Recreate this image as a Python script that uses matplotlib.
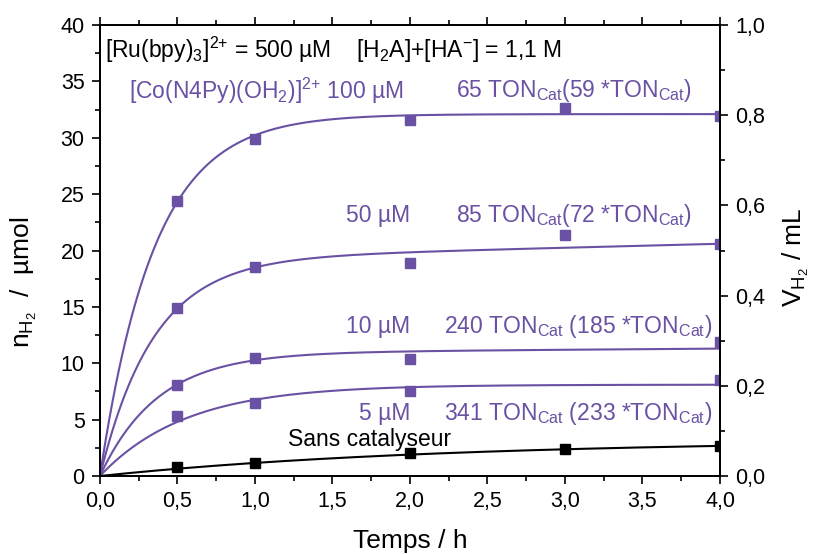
import numpy as np
import matplotlib
matplotlib.use("Agg")
import matplotlib.pyplot as plt
from matplotlib.ticker import MultipleLocator, FuncFormatter

plt.rcParams['font.family'] = ['Liberation Sans', 'DejaVu Sans']
plt.rcParams['mathtext.fontset'] = 'custom'
plt.rcParams['mathtext.rm'] = 'Liberation Sans'
plt.rcParams['mathtext.it'] = 'Liberation Sans'
plt.rcParams['mathtext.default'] = 'regular'

# ---- data (µmol H2 vs time in h) ----
t_pts = [0.5, 1.0, 2.0, 3.0, 4.0]
c100 = [24.4, 29.9, 31.6, 32.6, 31.9]
c50 = [14.9, 18.5, 18.9, 21.4, 20.6]
t_pts10 = [0.5, 1.0, 2.0, 4.0]
c10 = [8.1, 10.5, 10.4, 11.9]
c5 = [5.35, 6.5, 7.56, 8.5]
blank = [0.77, 1.18, 2.04, 2.39, 2.69]

# fitted curve parameters: plateau A, rate k, slow linear term b
fit100 = (32.1, 2.84, 0.0)
fit50 = (19.2, 2.9, 0.35)
fit10 = (10.9, 2.7, 0.1)
fit5 = (8.1, 1.8, 0.0)
fitblank = (3.2, 0.45, 0.0)

purple = '#6A51A3'

def model(t, p):
    A, k, b = p
    return A * (1 - np.exp(-k * t)) + b * t

fig = plt.figure(figsize=(8.18, 5.54), dpi=100)
ax = fig.add_axes([0.1222, 0.1408, 0.758, 0.814])

tt = np.linspace(0, 4, 400)
for p, col in [(fit100, purple), (fit50, purple), (fit10, purple), (fit5, purple), (fitblank, 'black')]:
    ax.plot(tt, model(tt, p), color=col, lw=1.5, zorder=2)

ms = 7
ax.plot(t_pts, c100, 's', color=purple, ms=ms, zorder=3)
ax.plot(t_pts, c50, 's', color=purple, ms=ms, zorder=3)
ax.plot(t_pts10, c10, 's', color=purple, ms=ms, zorder=3)
ax.plot(t_pts10, c5, 's', color=purple, ms=ms, zorder=3)
ax.plot(t_pts, blank, 's', color='black', ms=ms, zorder=3)

ax.set_xlim(0, 4)
ax.set_ylim(0, 40)
ax.xaxis.set_major_locator(MultipleLocator(0.5))
ax.xaxis.set_minor_locator(MultipleLocator(0.25))
ax.yaxis.set_major_locator(MultipleLocator(5))
ax.yaxis.set_minor_locator(MultipleLocator(2.5))
ax.xaxis.set_major_formatter(FuncFormatter(lambda v, p: f"{v:.1f}".replace('.', ',')))
ax.tick_params(axis='both', which='major', direction='out', length=6, width=1.2, labelsize=15.5, top=True, pad=5)
ax.tick_params(axis='both', which='minor', direction='out', length=3.5, width=1.2, top=True)
for s in ax.spines.values():
    s.set_linewidth(1.3)

ax2 = ax.twinx()
ax2.set_ylim(0, 1.0)
ax2.yaxis.set_major_locator(MultipleLocator(0.2))
ax2.yaxis.set_minor_locator(MultipleLocator(0.1))
ax2.yaxis.set_major_formatter(FuncFormatter(lambda v, p: f"{v:.1f}".replace('.', ',')))
ax2.tick_params(axis='y', which='major', direction='out', length=6, width=1.2, labelsize=15.5, pad=5)
ax2.tick_params(axis='y', which='minor', direction='out', length=3.5, width=1.2)
for s in ax2.spines.values():
    s.set_linewidth(1.3)

ax.set_xlabel('Temps / h', fontsize=19, labelpad=12)
ax.set_ylabel(r'n$_{H_2}$  /  µmol', fontsize=19)
ax.yaxis.label.set_va('center')
ax.yaxis.set_label_coords(-0.122, 0.43)
ax2.set_ylabel(r'V$_{H_2}$ / mL', fontsize=19)
ax2.yaxis.label.set_va('center')
ax2.yaxis.set_label_coords(1.122, 0.486)

fs = 16.5
ax.text(0.03, 37.8, r'[Ru(bpy)$_3$]$^{2{+}}$ = 500 µM    [H$_2$A]+[HA$^{-}$] = 1,1 M',
        fontsize=fs, color='black', va='center', ha='left')
ax.text(0.19, 34.2, r'[Co(N4Py)(OH$_2$)]$^{2{+}}$ 100 µM', fontsize=fs, color=purple, va='center', ha='left')
ax.text(2.3, 34.2, r'65 TON$_{Cat}$(59 *TON$_{Cat}$)', fontsize=fs, color=purple, va='center', ha='left')
ax.text(2.0, 23.1, r'50 µM', fontsize=fs, color=purple, va='center', ha='right')
ax.text(2.3, 23.1, r'85 TON$_{Cat}$(72 *TON$_{Cat}$)', fontsize=fs, color=purple, va='center', ha='left')
ax.text(2.0, 13.3, r'10 µM', fontsize=fs, color=purple, va='center', ha='right')
ax.text(2.22, 13.3, r'240 TON$_{Cat}$ (185 *TON$_{Cat}$)', fontsize=fs, color=purple, va='center', ha='left')
ax.text(2.0, 5.5, r'5 µM', fontsize=fs, color=purple, va='center', ha='right')
ax.text(2.22, 5.5, r'341 TON$_{Cat}$ (233 *TON$_{Cat}$)', fontsize=fs, color=purple, va='center', ha='left')
ax.text(1.21, 3.2, 'Sans catalyseur', fontsize=fs, color='black', va='center', ha='left')

fig.savefig('out.png', dpi=100)
